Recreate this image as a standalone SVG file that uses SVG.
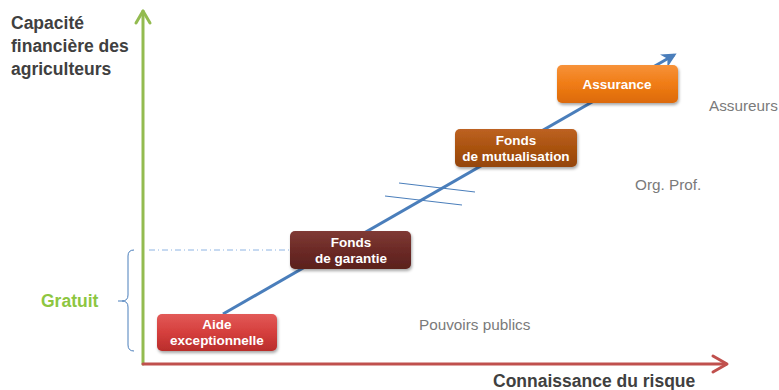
<svg xmlns="http://www.w3.org/2000/svg" width="779" height="390" viewBox="0 0 779 390">
  <defs>
    <linearGradient id="gRed" x1="0" y1="0" x2="0" y2="1">
      <stop offset="0" stop-color="#e25a58"/>
      <stop offset="0.5" stop-color="#d53f3d"/>
      <stop offset="1" stop-color="#b92d2b"/>
    </linearGradient>
    <linearGradient id="gMaroon" x1="0" y1="0" x2="0" y2="1">
      <stop offset="0" stop-color="#7f3a35"/>
      <stop offset="0.5" stop-color="#6c2a26"/>
      <stop offset="1" stop-color="#5a201d"/>
    </linearGradient>
    <linearGradient id="gBrown" x1="0" y1="0" x2="0" y2="1">
      <stop offset="0" stop-color="#bd6222"/>
      <stop offset="0.5" stop-color="#a9520f"/>
      <stop offset="1" stop-color="#94450b"/>
    </linearGradient>
    <linearGradient id="gOrange" x1="0" y1="0" x2="0" y2="1">
      <stop offset="0" stop-color="#f7923a"/>
      <stop offset="0.5" stop-color="#f07c15"/>
      <stop offset="1" stop-color="#dc6a08"/>
    </linearGradient>
    <filter id="shadow" x="-10%" y="-20%" width="125%" height="160%">
      <feDropShadow dx="1" dy="2" stdDeviation="1.5" flood-color="#000" flood-opacity="0.35"/>
    </filter>
    <marker id="headBlue" viewBox="0 0 10 10" refX="8" refY="5" markerWidth="5" markerHeight="5" orient="auto" markerUnits="strokeWidth">
      <path d="M0,0 L10,5 L0,10 L3,5 Z" fill="#4a7ebb"/>
    </marker>
  </defs>
  <style>
    .node text { font-family: "Liberation Sans", Arial, sans-serif; font-weight: bold; font-size: 13.5px; fill: #ffffff; text-anchor: middle; }
    .title { font-family: "Liberation Sans", Arial, sans-serif; font-weight: bold; font-size: 17.5px; fill: #404040; }
    .actor { font-family: "Liberation Sans", Arial, sans-serif; font-size: 15.3px; fill: #7a7a7a; }
    .thin { stroke: #4a7ebb; stroke-width: 1; fill: none; }
  </style>

  <!-- axes -->
  <g id="axes" fill="none" stroke-linecap="round" stroke-linejoin="round">
    <line x1="143" y1="364" x2="143" y2="11" stroke="#93bb50" stroke-width="3"/>
    <polyline points="136,23 143,11 150,23" stroke="#93bb50" stroke-width="3"/>
    <line x1="143" y1="364" x2="726" y2="364" stroke="#c0504d" stroke-width="3"/>
    <polyline points="713,356 727,364 713,372" stroke="#c0504d" stroke-width="3"/>
  </g>

  <!-- axis titles -->
  <text class="title" x="11" y="29">Capacité</text>
  <text class="title" x="11" y="52">financière des</text>
  <text class="title" x="11" y="75">agriculteurs</text>
  <text class="title" x="493" y="387">Connaissance du risque</text>

  <!-- free level marker -->
  <g id="gratuit">
    <text x="41" y="307" font-family="Liberation Sans, Arial, sans-serif" font-weight="bold" font-size="17.5" fill="#8dc641">Gratuit</text>
    <path class="thin" d="M134,250 Q128,250 128,256 L128,295 Q128,301 122,301 L118,301 M122,301 Q128,301 128,307 L128,345 Q128,351 134,351"/>
    <line x1="149" y1="250" x2="290" y2="250" stroke="#8eb4e3" stroke-width="1" stroke-dasharray="6,3,1,3"/>
  </g>

  <!-- connectors -->
  <g id="connectors">
    <line x1="223" y1="314" x2="674" y2="55" stroke="#4a7ebb" stroke-width="3" marker-end="url(#headBlue)"/>
    <line class="thin" x1="399" y1="183" x2="475" y2="192"/>
    <line class="thin" x1="385" y1="196" x2="462" y2="205"/>
  </g>

  <!-- nodes -->
  <g id="aide" class="node">
    <rect x="157" y="314" width="120" height="37" rx="5" fill="url(#gRed)" filter="url(#shadow)"/>
    <text x="217" y="329">Aide</text>
    <text x="217" y="345">exceptionnelle</text>
  </g>
  <g id="garantie" class="node">
    <rect x="290" y="231" width="121" height="38" rx="5" fill="url(#gMaroon)" filter="url(#shadow)"/>
    <text x="351" y="247">Fonds</text>
    <text x="351" y="263">de garantie</text>
  </g>
  <g id="mutualisation" class="node">
    <rect x="455" y="129" width="122" height="38" rx="5" fill="url(#gBrown)" filter="url(#shadow)"/>
    <text x="516" y="145">Fonds</text>
    <text x="516" y="161">de mutualisation</text>
  </g>
  <g id="assurance" class="node">
    <rect x="557" y="65" width="121" height="38" rx="5" fill="url(#gOrange)" filter="url(#shadow)"/>
    <text x="617" y="89">Assurance</text>
  </g>

  <!-- actors -->
  <text class="actor" x="709" y="111">Assureurs</text>
  <text class="actor" x="635" y="190">Org. Prof.</text>
  <text class="actor" x="419" y="330">Pouvoirs publics</text>
</svg>
